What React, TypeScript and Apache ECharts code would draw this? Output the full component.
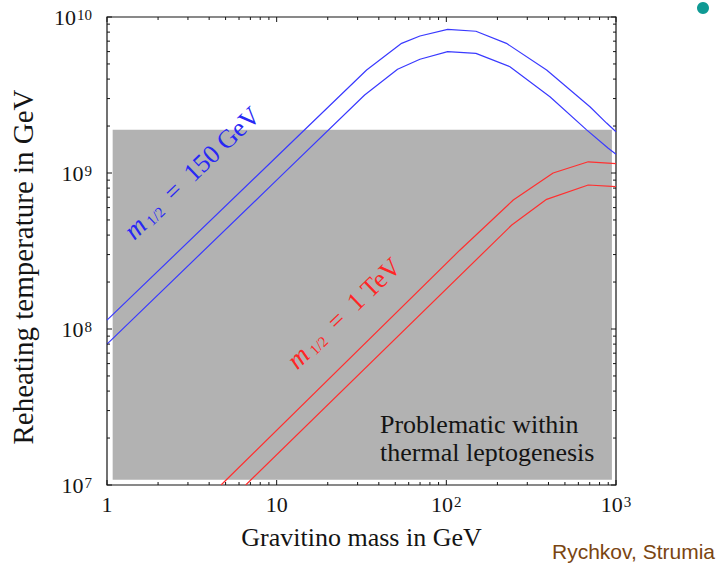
import React, { useEffect, useRef } from "react";
import * as echarts from "echarts";

// Gravitino mass (GeV) and reheating temperature (GeV)
const blueUpperX = [1, 10, 33.9, 54.5, 69.9, 101.8, 149.4, 226, 390, 702, 880, 1000];
const blueUpperY = [1.14e8, 1.27e9, 4.57e9, 6.78e9, 7.55e9, 8.34e9, 8.1e9, 6.78e9, 4.57e9, 2.66e9, 2.09e9, 1.84e9];
const blueLowerX = [1, 10, 33, 51.6, 69.9, 101.8, 149.4, 237, 408, 671, 900, 1000];
const blueLowerY = [8.0e7, 9.0e8, 3.16e9, 4.62e9, 5.36e9, 6.0e9, 5.85e9, 4.8e9, 3.08e9, 1.89e9, 1.44e9, 1.32e9];
const redUpperX = [4.7, 120, 248, 426, 686, 1000];
const redUpperY = [1e7, 3.2e8, 6.71e8, 1.0e9, 1.18e9, 1.15e9];
const redLowerX = [6.57, 243, 390, 686, 1000];
const redLowerY = [1e7, 4.64e8, 6.78e8, 8.38e8, 8.17e8];

// shaded "problematic" region
const shadeX = [1.08, 946];
const shadeY = [1.08e7, 1.89e9];

// axis ticks
const xMajorTicks = [1, 10, 100, 1000];
const xMinorTicks = [2, 3, 4, 5, 6, 7, 8, 9, 20, 30, 40, 50, 60, 70, 80, 90, 200, 300, 400, 500, 600, 700, 800, 900];
const yMajorTicks = [1e7, 1e8, 1e9, 1e10];
const yMinorTicks = [2e7, 3e7, 4e7, 5e7, 6e7, 7e7, 8e7, 9e7, 2e8, 3e8, 4e8, 5e8, 6e8, 7e8, 8e8, 9e8, 2e9, 3e9, 4e9, 5e9, 6e9, 7e9, 8e9, 9e9];

const xTitle = "Gravitino mass in GeV";
const yTitle = "Reheating temperature in GeV";
const blueLabel = "150 GeV";
const redLabel = "1 TeV";
const noteLines = ["Problematic within", "thermal leptogenesis"];
const credit = "Rychkov, Strumia";

const pair = (xs: number[], ys: number[]) => xs.map((x, i) => [x, ys[i]]);

export default function App() {
  const ref = useRef<HTMLDivElement>(null);
  useEffect(() => {
    const chart = echarts.init(ref.current!, null, { renderer: "svg" });
    const serif = "'Liberation Serif', 'Times New Roman', serif";
    const ink = "#141414";
    const blue = "#3a3aff";
    const red = "#ff3030";
    const tickRich = {
      n: { fontFamily: serif, fontSize: 22, color: ink },
      sup: { fontFamily: serif, fontSize: 15, color: ink, verticalAlign: "top" as const, padding: [1, 0, 0, 1] },
    };
    const pow = (v: number) => Math.round(Math.log10(v));
    const xFmt = (v: number) => {
      const e = pow(v);
      if (e === 0) return "{n|1}";
      if (e === 1) return "{n|10}";
      return "{n|10}{sup|" + e + "}";
    };
    const yFmt = (v: number) => "{n|10}{sup|" + pow(v) + "}";

    const tickSeries = (isX: boolean) => ({
      type: "custom" as const,
      coordinateSystem: "cartesian2d",
      silent: true,
      clip: false,
      z: 6,
      data: isX
        ? xMajorTicks.map((v) => [v, 1e8, 5]).concat(xMinorTicks.map((v) => [v, 1e8, 3]))
        : yMajorTicks.map((v) => [10, v, 5]).concat(yMinorTicks.map((v) => [10, v, 3])),
      renderItem: (params: any, api: any) => {
        const cs = params.coordSys;
        const p = api.coord([api.value(0), api.value(1)]);
        const len = api.value(2);
        const st = { stroke: ink, lineWidth: 1 };
        if (isX) {
          const b = cs.y + cs.height;
          const t = cs.y;
          return {
            type: "group",
            children: [
              { type: "line", shape: { x1: p[0], y1: b, x2: p[0], y2: b - len }, style: st },
              { type: "line", shape: { x1: p[0], y1: t, x2: p[0], y2: t + len }, style: st },
            ],
          };
        }
        const l = cs.x;
        const r = cs.x + cs.width;
        return {
          type: "group",
          children: [
            { type: "line", shape: { x1: l, y1: p[1], x2: l + len, y2: p[1] }, style: st },
            { type: "line", shape: { x1: r, y1: p[1], x2: r - len, y2: p[1] }, style: st },
          ],
        };
      },
    });

    const lineSeries = (name: string, data: number[][], color: string) => ({
      name,
      type: "line" as const,
      data,
      showSymbol: false,
      symbol: "none",
      smooth: false,
      z: 4,
      lineStyle: { color, width: 1.2 },
    });

    const annot = (text: string, color: string, x: number, y: number) => ({
      type: "text",
      x,
      y,
      rotation: (43.9 * Math.PI) / 180,
      z: 10,
      style: {
        text: "{m|m}{s| 1/2}{t|  =  " + text + "}",
        align: "center",
        verticalAlign: "middle",
        rich: {
          m: { fontFamily: serif, fontStyle: "italic", fontSize: 27, fill: color },
          s: { fontFamily: serif, fontSize: 15, fill: color, verticalAlign: "bottom" },
          t: { fontFamily: serif, fontSize: 26, fill: color },
        },
      },
    });

    chart.setOption({
      animation: false,
      backgroundColor: "#ffffff",
      grid: {
        left: 107,
        top: 17,
        width: 509,
        height: 468,
        show: true,
        borderColor: ink,
        borderWidth: 1.2,
        backgroundColor: "transparent",
      },
      xAxis: {
        type: "log",
        logBase: 10,
        min: 1,
        max: 1000,
        name: xTitle,
        nameLocation: "middle",
        nameGap: 39,
        nameTextStyle: { fontFamily: serif, fontSize: 26, color: ink },
        axisLine: { show: false },
        axisTick: { show: false },
        splitLine: { show: false },
        axisLabel: {
          margin: 8,
          fontFamily: serif,
          fontSize: 22,
          color: ink,
          showMinLabel: true,
          showMaxLabel: true,
          formatter: xFmt,
          rich: tickRich,
        },
      },
      yAxis: {
        type: "log",
        logBase: 10,
        min: 1e7,
        max: 1e10,
        axisLine: { show: false },
        axisTick: { show: false },
        splitLine: { show: false },
        axisLabel: {
          margin: 15,
          fontFamily: serif,
          fontSize: 22,
          color: ink,
          showMinLabel: true,
          showMaxLabel: true,
          formatter: yFmt,
          rich: tickRich,
        },
      },
      series: [
        {
          name: "shade",
          type: "line",
          data: [],
          z: 1,
          markArea: {
            silent: true,
            itemStyle: { color: "#b2b2b2", opacity: 1 },
            data: [[{ coord: [shadeX[0], shadeY[1]] }, { coord: [shadeX[1], shadeY[0]] }]],
          },
        },
        lineSeries("blue upper", pair(blueUpperX, blueUpperY), blue),
        lineSeries("blue lower", pair(blueLowerX, blueLowerY), blue),
        lineSeries("red upper", pair(redUpperX, redUpperY), red),
        lineSeries("red lower", pair(redLowerX, redLowerY), red),
        tickSeries(true),
        tickSeries(false),
      ],
      graphic: [
        {
          type: "text",
          x: 23,
          y: 267,
          rotation: Math.PI / 2,
          z: 10,
          style: {
            text: yTitle,
            fontFamily: serif,
            fontSize: 29,
            fill: ink,
            align: "center",
            verticalAlign: "middle",
          },
        },
        annot(blueLabel, "#2828f5", 192, 173),
        annot(redLabel, "#ff2626", 344, 313),
        {
          type: "text",
          x: 380,
          y: 410,
          z: 10,
          style: {
            text: noteLines.join("\n"),
            fontFamily: serif,
            fontSize: 26,
            lineHeight: 28,
            fill: ink,
            align: "left",
            verticalAlign: "top",
          },
        },
        {
          type: "text",
          x: 715,
          y: 551,
          z: 10,
          style: {
            text: credit,
            fontFamily: "'Liberation Sans', Arial, sans-serif",
            fontSize: 21,
            fill: "#7a4511",
            align: "right",
            verticalAlign: "middle",
          },
        },
        {
          type: "circle",
          shape: { cx: 703, cy: 8, r: 6 },
          style: { fill: "#0f9a94" },
          z: 10,
        },
      ],
    });
    return () => chart.dispose();
  }, []);
  return (
    <div
      ref={ref}
      style={{ position: "fixed", left: 0, top: 0, width: 717, height: 564, background: "#fff" }}
    />
  );
}
